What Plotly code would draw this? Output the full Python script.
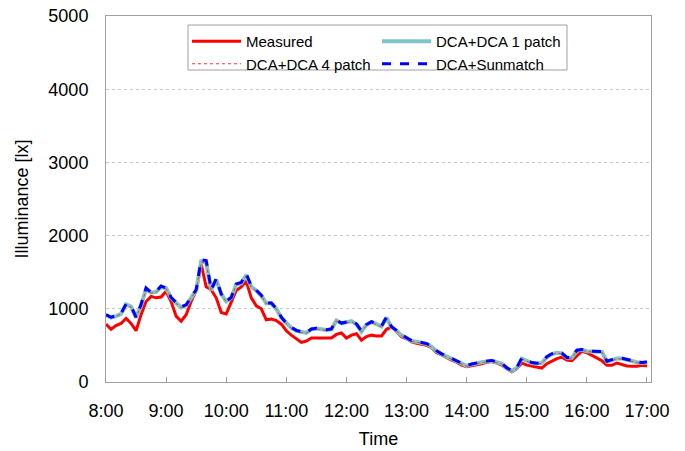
import pandas as pd
import plotly.graph_objects as go

# Five-minute samples from 8:00 to 17:00
times = pd.date_range("2000-01-01 08:00", "2000-01-01 17:00", freq="5min")

measured = [
    790, 720, 770, 800, 870, 800, 700, 920, 1100, 1170, 1150, 1160,
    1240, 1100, 900, 830, 920, 1100, 1250, 1610, 1300, 1260, 1150, 950,
    930, 1100, 1250, 1300, 1380, 1150, 1040, 1000, 850, 860, 840, 790,
    700, 640, 590, 540, 560, 600, 600, 600, 600, 600, 650, 670,
    600, 640, 660, 570, 620, 640, 630, 630, 720, 750, 690, 620,
    590, 550, 530, 520, 500, 470, 400, 370, 330, 300, 270, 230,
    210, 220, 240, 250, 270, 280, 260, 230, 180, 140, 180, 260,
    230, 220, 200, 190, 250, 290, 320, 340, 300, 290, 350, 420,
    400, 360, 330, 290, 230, 230, 260, 240, 220, 215, 215, 230,
    220,
]

dca_1patch = [
    910, 880, 900, 930, 1060, 1030, 880, 1050, 1270, 1220, 1230, 1300,
    1280, 1150, 1080, 1020, 1050, 1150, 1250, 1650, 1640, 1250, 1400, 1200,
    1100, 1150, 1330, 1350, 1460, 1300, 1250, 1180, 1075, 1075, 1000, 880,
    800, 740, 700, 680, 670, 720, 730, 720, 710, 720, 840, 800,
    820, 830, 790, 690, 780, 820, 790, 760, 880, 750, 700, 640,
    600, 560, 550, 540, 520, 480, 420, 380, 350, 320, 280, 250,
    220, 240, 260, 270, 280, 290, 270, 250, 190, 150, 190, 320,
    290, 260, 250, 260, 340, 380, 400, 390, 330, 330, 430, 440,
    420, 420, 410, 410, 280, 300, 320, 320, 300, 280, 270, 260,
    270,
]

dca_4patch = [
    905, 875, 900, 925, 1050, 1025, 880, 1045, 1260, 1215, 1225, 1295,
    1275, 1145, 1075, 1015, 1045, 1145, 1245, 1640, 1630, 1245, 1395, 1195,
    1095, 1145, 1325, 1345, 1450, 1295, 1245, 1175, 1070, 1070, 995, 875,
    795, 735, 695, 675, 665, 715, 725, 715, 705, 715, 835, 795,
    815, 825, 785, 685, 775, 815, 785, 755, 875, 745, 695, 635,
    595, 555, 545, 535, 515, 475, 415, 375, 345, 315, 275, 245,
    215, 235, 255, 265, 275, 285, 265, 245, 185, 145, 185, 315,
    285, 255, 245, 255, 335, 375, 395, 385, 325, 325, 425, 435,
    415, 415, 405, 405, 275, 295, 315, 315, 295, 275, 265, 255,
    265,
]

dca_sunmatch = [
    920, 885, 905, 935, 1065, 1035, 885, 1060, 1285, 1225, 1235, 1310,
    1285, 1155, 1085, 1025, 1055, 1160, 1260, 1670, 1660, 1260, 1410, 1205,
    1105, 1155, 1340, 1360, 1480, 1310, 1255, 1185, 1080, 1080, 1005, 885,
    805, 745, 705, 685, 675, 725, 735, 725, 715, 725, 845, 805,
    825, 835, 795, 695, 785, 825, 795, 765, 885, 755, 705, 645,
    605, 565, 555, 545, 525, 485, 425, 385, 355, 325, 285, 255,
    225, 245, 265, 275, 285, 295, 275, 255, 195, 155, 195, 325,
    295, 265, 255, 265, 345, 385, 405, 395, 335, 335, 435, 445,
    425, 425, 415, 415, 285, 305, 325, 325, 305, 285, 275, 265,
    275,
]

tick_hours = [f"{h}:00" for h in range(8, 18)]
tick_vals = [f"2000-01-01 {h:02d}:00" for h in range(8, 18)]

FONT = "Arial, Liberation Sans, sans-serif"

fig = go.Figure()
fig.add_trace(go.Scatter(x=times, y=measured, name="Measured", mode="lines",
                         line=dict(color="#ff0000", width=3), legend="legend"))
fig.add_trace(go.Scatter(x=times, y=dca_1patch, name="DCA+DCA 1 patch", mode="lines",
                         line=dict(color="#80c4c4", width=4), legend="legend2"))
fig.add_trace(go.Scatter(x=times, y=dca_4patch, name="DCA+DCA 4 patch", mode="lines",
                         line=dict(color="#ff3333", width=1, dash="dot"), legend="legend"))
fig.add_trace(go.Scatter(x=times, y=dca_sunmatch, name="DCA+Sunmatch", mode="lines",
                         line=dict(color="#0000ff", width=3, dash="dash"), legend="legend2"))

# plot area in pixels: left 106, right 651, top 16, bottom 382
W, H = 685, 451
L, R, T, B = 106, 34, 16, 69
pw, ph = W - L - R, H - T - B


def px(x):
    return (x - L) / pw


def py(y):
    return (H - B - y) / ph


legend_style = dict(font=dict(family=FONT, size=15, color="#000000"),
                    bgcolor="rgba(0,0,0,0)", borderwidth=0, orientation="v",
                    xanchor="left", yanchor="top", itemwidth=49,
                    tracegroupgap=0)

fig.update_layout(
    width=W, height=H,
    margin=dict(l=L, r=R, t=T, b=B, autoexpand=False),
    paper_bgcolor="white", plot_bgcolor="white",
    font=dict(family=FONT, size=18, color="#000000"),
    showlegend=True,
    legend=dict(x=px(187), y=py(25), **legend_style),
    legend2=dict(x=px(377), y=py(25), **legend_style),
    shapes=[dict(type="rect", xref="paper", yref="paper",
                 x0=px(188), x1=px(567), y0=py(70), y1=py(25),
                 line=dict(color="#a0a0a0", width=1), fillcolor="rgba(0,0,0,0)")],
    xaxis=dict(
        type="date", automargin=False,
        range=["2000-01-01 08:00", "2000-01-01 17:04"],
        tickvals=tick_vals, ticktext=tick_hours,
        ticks="inside", ticklen=5, tickcolor="#a0a0a0",
        ticklabelstandoff=12,
        showline=True, linecolor="#a0a0a0", linewidth=1, mirror=True,
        showgrid=False, zeroline=False,
        tickfont=dict(family=FONT, size=18),
        title=dict(text="Time", font=dict(family=FONT, size=18), standoff=12),
    ),
    yaxis=dict(
        automargin=False,
        range=[0, 5000], dtick=1000,
        showline=True, linecolor="#a0a0a0", linewidth=1, mirror=True,
        showgrid=True, gridcolor="#c8c8c8", griddash="dot", gridwidth=1,
        zeroline=False, ticks="",
        ticklabelstandoff=13,
        tickfont=dict(family=FONT, size=18),
        title=dict(text="Illuminance [lx]", font=dict(family=FONT, size=18), standoff=15),
    ),
)

fig.write_html("out.html")
